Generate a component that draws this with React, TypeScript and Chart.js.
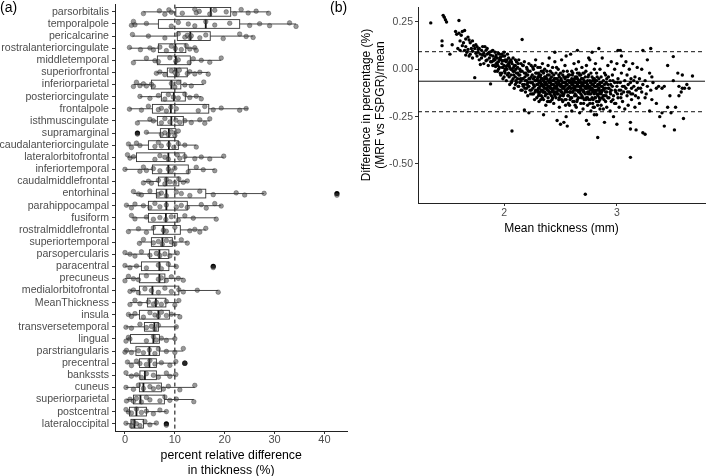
import React, { useEffect, useRef } from 'react';
import { Chart, registerables } from 'chart.js';

Chart.register(...registerables);

const FONT = "'Liberation Sans', Arial, Helvetica, sans-serif";
const TICK_COLOR = '#4d4d4d';
const AXIS_COLOR = '#222';

// ---------- Panel (a): box plots ----------
const REGIONS = [
  'parsorbitalis', 'temporalpole', 'pericalcarine', 'rostralanteriorcingulate', 'middletemporal',
  'superiorfrontal', 'inferiorparietal', 'posteriorcingulate', 'frontalpole', 'isthmuscingulate',
  'supramarginal', 'caudalanteriorcingulate', 'lateralorbitofrontal', 'inferiortemporal', 'caudalmiddlefrontal',
  'entorhinal', 'parahippocampal', 'fusiform', 'rostralmiddlefrontal', 'superiortemporal',
  'parsopercularis', 'paracentral', 'precuneus', 'medialorbitofrontal', 'MeanThickness',
  'insula', 'transversetemporal', 'lingual', 'parstriangularis', 'precentral',
  'bankssts', 'cuneus', 'superiorparietal', 'postcentral', 'lateraloccipital',
];

const WHISK_LO = [3.7, 1.3, 1.5, 0.9, 1.7, 6.3, 1.7, 3.0, 0.9, 2.5, 4.3, 0.7, 0.5, 0.0, 3.7, 1.7, 0.3, 1.3, 0.7, 2.9, 0.0, 0.0, 0.0, 1.0, 1.0, 0.7, 0.2, 0.2, 0.0, 0.5, 0.2, 0.2, 0.3, 0.2, 0.2];
const Q1 = [10.2, 6.7, 10.5, 6.7, 6.5, 8.5, 5.3, 7.3, 5.5, 6.5, 7.1, 4.7, 2.3, 5.5, 6.7, 6.3, 4.7, 4.7, 5.7, 5.3, 4.9, 3.3, 2.9, 2.9, 4.5, 2.9, 3.9, 1.1, 2.2, 2.9, 3.0, 2.9, 1.7, 0.9, 1.2];
const MEDIAN = [17.2, 16.2, 13.1, 10.1, 10.2, 10.3, 9.3, 9.8, 9.2, 9.3, 8.8, 8.8, 8.7, 8.7, 8.3, 8.3, 8.3, 8.2, 7.7, 7.5, 6.9, 6.9, 6.9, 5.5, 6.2, 6.7, 5.9, 5.7, 4.9, 4.9, 4.0, 3.7, 3.1, 2.3, 1.9];
const Q3 = [21.2, 23.0, 17.1, 12.2, 13.1, 12.5, 11.2, 12.1, 16.8, 11.7, 10.2, 10.7, 12.0, 12.7, 10.8, 16.2, 12.5, 10.5, 11.1, 9.5, 8.8, 8.8, 8.0, 10.8, 8.2, 8.9, 6.7, 6.9, 6.9, 6.3, 6.3, 7.3, 7.9, 4.3, 3.7];
const WHISK_HI = [28.8, 34.3, 25.7, 14.3, 19.3, 16.7, 15.8, 15.3, 24.7, 17.0, 10.7, 14.3, 19.8, 18.0, 12.5, 27.9, 19.3, 18.3, 16.2, 12.5, 10.5, 10.3, 11.7, 18.7, 10.8, 11.0, 10.5, 10.0, 11.7, 10.2, 10.2, 14.0, 13.8, 8.3, 6.3];

const REGION_POINTS: number[][] = [
  [3.7, 6.9, 8.0, 8.8, 9.3, 11.5, 14.0, 14.3, 14.9, 17.0, 18.0, 20.3, 22.0, 23.3, 24.7, 26.3, 28.8],
  [1.3, 1.7, 2.0, 4.3, 9.3, 10.7, 12.7, 14.0, 16.2, 18.0, 21.0, 25.0, 27.0, 29.0, 33.0, 34.3],
  [1.5, 4.7, 8.0, 10.7, 12.0, 12.5, 13.0, 13.3, 15.0, 16.2, 19.7, 23.0, 24.3, 25.7],
  [0.9, 3.1, 5.0, 5.7, 7.0, 8.3, 9.3, 10.1, 11.3, 12.3, 13.0, 14.0, 14.3],
  [1.7, 4.3, 6.0, 6.7, 9.0, 10.2, 10.7, 12.9, 13.7, 15.3, 17.0, 19.3],
  [6.3, 7.0, 8.0, 9.3, 10.0, 10.5, 10.9, 12.5, 13.0, 14.0, 15.0, 16.7],
  [1.7, 2.3, 3.0, 3.7, 4.3, 5.3, 5.7, 9.3, 10.0, 10.7, 12.0, 13.3, 15.8],
  [3.0, 5.0, 6.7, 8.0, 8.7, 9.7, 10.7, 12.0, 13.0, 14.3, 15.3],
  [0.9, 3.3, 4.7, 6.7, 7.3, 8.3, 9.2, 10.3, 14.7, 16.0, 17.7, 19.3, 23.0, 24.3],
  [2.5, 5.0, 5.7, 7.3, 8.0, 9.0, 10.2, 11.0, 12.0, 13.3, 15.0, 16.0, 17.0],
  [2.5, 4.3, 7.3, 8.0, 8.7, 9.3, 10.0, 10.7],
  [0.7, 1.3, 2.3, 3.0, 6.0, 6.7, 7.3, 8.8, 9.8, 10.7, 12.0, 14.3],
  [0.5, 1.0, 1.7, 6.0, 7.0, 8.0, 8.7, 10.5, 11.0, 12.0, 14.0, 15.3, 17.0, 19.8],
  [0.0, 3.0, 3.7, 4.3, 5.7, 7.0, 8.7, 9.3, 10.0, 12.7, 14.3, 15.7, 18.0],
  [3.7, 4.7, 5.3, 6.7, 8.0, 8.3, 9.0, 10.0, 10.8, 11.7, 12.5],
  [1.7, 2.7, 3.3, 5.0, 6.7, 7.3, 8.3, 10.3, 11.3, 13.0, 15.0, 17.7, 22.3, 24.0, 27.9, 42.5],
  [0.3, 1.3, 2.0, 3.7, 5.0, 6.0, 7.0, 8.3, 10.3, 11.3, 12.5, 15.3, 16.3, 18.0, 19.3],
  [1.3, 2.0, 4.3, 5.7, 7.0, 8.2, 9.3, 10.7, 12.0, 13.7, 18.3],
  [0.7, 2.7, 4.3, 5.7, 7.7, 8.3, 10.0, 13.0, 14.0, 15.0, 16.2],
  [2.9, 3.7, 5.7, 6.7, 7.5, 8.3, 9.3, 10.0, 11.3, 12.5],
  [0.0, 1.0, 2.0, 3.3, 5.0, 6.3, 7.0, 8.0, 9.0, 10.5],
  [0.0, 1.0, 2.3, 4.3, 6.7, 7.3, 8.7, 10.3, 17.7],
  [0.0, 0.7, 1.7, 2.7, 4.3, 6.7, 7.3, 8.3, 9.3, 10.7, 11.7],
  [1.0, 1.7, 2.7, 4.0, 5.3, 6.7, 8.0, 9.3, 10.8, 11.7, 14.5, 18.7],
  [1.0, 2.0, 3.0, 4.7, 5.7, 6.3, 7.3, 8.3, 10.0, 10.8],
  [0.7, 1.3, 2.0, 3.7, 5.0, 6.0, 6.7, 7.3, 8.3, 9.3, 11.0],
  [0.2, 1.3, 3.0, 4.3, 5.3, 6.0, 6.7, 10.3],
  [0.2, 0.7, 1.0, 4.3, 5.7, 6.3, 7.3, 8.3, 10.0],
  [0.0, 0.3, 1.3, 2.7, 3.7, 4.9, 6.0, 6.7, 8.3, 10.0, 11.7],
  [0.5, 1.3, 2.3, 3.0, 4.3, 5.0, 6.0, 7.3, 9.0, 10.2, 12.0],
  [0.2, 1.3, 2.3, 3.3, 4.3, 5.7, 6.7, 8.3, 9.0, 10.2],
  [0.2, 1.7, 2.7, 3.7, 5.0, 5.7, 6.7, 7.7, 8.7, 11.0, 14.0],
  [0.3, 1.0, 1.7, 2.3, 3.3, 4.3, 5.0, 7.0, 8.0, 9.0, 10.3, 13.8],
  [0.2, 0.7, 1.3, 2.3, 3.3, 4.3, 5.7, 7.0, 8.3],
  [0.2, 1.3, 1.7, 2.3, 3.0, 4.0, 5.0, 6.3, 8.3],
];

// [region index, value]
const OUTLIERS: [number, number][] = [[10, 2.5], [15, 42.5], [21, 17.7], [29, 12.0], [34, 8.3]];
const REFERENCE_PCT = 10;
const X_TICKS_A = [0, 10, 20, 30, 40];

// vertical jitter pattern (style only, in category units)
const JITTER = [0.14, -0.09, 0.2, -0.17, 0.03, 0.11, -0.21, 0.07, -0.04, 0.18, -0.13, 0.0, 0.16, -0.19, 0.09, -0.06, 0.12, -0.02];

// ---------- Panel (b): Bland-Altman ----------
// each row: [mean thickness, difference values...]
const BA_TAIL: number[][] = [
  [1.35, 0.245], [1.45, 0.15, 0.125], [1.46, 0.285], [1.47, 0.275], [1.48, 0.262], [1.49, 0.25],
  [1.52, 0.08], [1.54, 0.13], [1.57, 0.2], [1.58, 0.185], [1.59, 0.11], [1.6, 0.258, 0.19],
  [1.61, 0.1, 0.15], [1.62, 0.18], [1.63, 0.2, 0.125], [1.64, 0.14], [1.65, 0.205, 0.1],
  [1.66, 0.16, 0.12, 0.075], [1.67, 0.09], [1.68, 0.17, 0.105], [1.69, 0.155, 0.07], [1.7, 0.14, 0.08],
  [1.71, 0.11], [1.72, 0.15, 0.095, 0.06], [1.73, 0.125], [1.74, 0.11, -0.044], [1.75, 0.13, 0.085],
  [1.76, 0.12, 0.07], [1.77, 0.09, 0.105], [1.78, 0.11, 0.05], [1.79, 0.08, 0.025], [1.8, 0.1, 0.06],
  [1.81, 0.12, 0.075], [1.82, 0.085, 0.03], [1.83, 0.07, 0.12], [1.84, 0.1, 0.045], [1.85, 0.05, 0.11, 0.08],
  [1.86, 0.085, 0.02], [1.87, 0.06, 0.09], [1.88, 0.075, -0.077, 0.04], [1.89, 0.04, 0.095],
];
const BA_RISE: number[][] = [
  [1.9, 0.07, 0.02, 0.1], [1.91, 0.02, 0.055], [1.92, 0.05, 0.09, -0.01], [1.93, 0.03, 0.075],
  [1.94, 0.06, -0.01, 0.035], [1.95, 0.04, 0.085, 0.0], [1.96, 0.08, 0.01, 0.05], [1.97, 0.05, -0.03, 0.065],
  [1.98, -0.02, 0.03, 0.08], [1.99, 0.07, 0.01, -0.05], [2.0, 0.02, -0.04, 0.045, 0.09], [2.01, 0.05, 0.0, -0.02],
  [2.02, 0.04, -0.06, 0.015], [2.03, 0.02, 0.08, -0.03], [2.04, -0.02, 0.03, 0.06], [2.05, 0.01, -0.08, 0.04],
  [2.06, 0.05, -0.03, 0.0], [2.07, 0.0, -0.326, 0.03, -0.06], [2.08, -0.05, 0.06, -0.01], [2.09, -0.01, -0.1, 0.02],
  [2.1, 0.02, -0.04, -0.08, 0.05], [2.11, 0.04, -0.07, -0.02], [2.12, -0.02, 0.01, -0.05], [2.13, -0.09, 0.05, -0.03],
  [2.14, -0.03, 0.0, -0.07], [2.15, -0.06, 0.03, -0.11], [2.16, 0.157, -0.11, -0.01, -0.05], [2.17, 0.02, -0.05, -0.09],
  [2.18, -0.08, 0.04, -0.02, -0.215], [2.19, -0.02, -0.12, -0.06], [2.2, 0.01, -0.06, -0.1, -0.03],
  [2.21, -0.03, -0.14, -0.07], [2.22, 0.03, -0.09, -0.05, -0.23], [2.23, -0.01, -0.05, -0.11],
  [2.24, -0.11, 0.02, -0.07, -0.04], [2.25, -0.07, -0.03, -0.13], [2.26, -0.13, 0.0, -0.08, -0.05],
  [2.27, -0.04, -0.09, -0.16], [2.28, -0.06, 0.05, -0.11, -0.02], [2.29, -0.02, -0.15, -0.08],
  [1.905, 0.045], [1.925, 0.015, 0.065], [1.945, 0.02], [1.965, 0.06, -0.02], [1.985, 0.045, 0.01],
  [2.005, 0.07, -0.01], [2.025, 0.0, 0.05], [2.045, -0.04, 0.02], [2.065, 0.04, -0.07], [2.085, 0.01, -0.03],
  [2.105, -0.06, 0.0], [2.125, 0.03, -0.09], [2.145, -0.05, -0.01], [2.165, -0.08, 0.02], [2.185, -0.04, -0.1],
  [2.205, -0.08, 0.0], [2.215, -0.01, -0.09], [2.235, -0.07, -0.13], [2.255, 0.01, -0.1],
  [2.275, -0.06, -0.12, 0.02], [2.295, -0.05, -0.11],
];
const BA_CORE: number[][] = [
  [2.3, -0.08, -0.04, -0.12, 0.01, -0.06], [2.31, -0.1, -0.03, -0.17, -0.07, -0.13],
  [2.32, -0.06, 0.01, -0.12, -0.09, -0.04], [2.33, -0.08, -0.01, -0.14, -0.05, -0.11],
  [2.34, -0.05, -0.11, 0.03, -0.08, -0.15], [2.35, -0.09, -0.02, -0.16, -0.06, -0.12, -0.24],
  [2.36, -0.07, -0.12, 0.0, -0.1, -0.04], [2.37, -0.04, -0.1, -0.19, -0.07, -0.13],
  [2.38, -0.08, -0.01, -0.13, -0.05, -0.1], [2.39, -0.06, -0.15, 0.02, -0.09, -0.11],
  [2.4, -0.09, -0.03, -0.12, 0.06, -0.07, -0.17], [2.41, -0.07, -0.17, -0.01, -0.1, -0.05],
  [2.42, -0.1, -0.04, -0.14, -0.08, -0.12], [2.43, -0.06, 0.01, -0.11, -0.08, -0.15],
  [2.44, -0.08, -0.18, -0.03, -0.12, -0.06], [2.45, -0.05, -0.12, 0.04, -0.09, -0.14, 0.09],
  [2.46, -0.07, -0.15, -0.02, -0.1, -0.05], [2.47, -0.1, -0.27, -0.05, -0.13, -0.08],
  [2.48, -0.08, -0.13, 0.0, -0.06, -0.11], [2.49, -0.04, -0.11, -0.2, -0.08, -0.15],
  [2.5, -0.09, -0.02, -0.29, -0.14, -0.06, -0.11], [2.51, -0.06, -0.12, 0.05, -0.09, -0.16],
  [2.52, -0.1, -0.03, -0.17, -0.07, -0.13], [2.53, -0.07, -0.13, -0.28, -0.04, -0.1],
  [2.54, -0.05, -0.09, 0.02, -0.12, -0.16], [2.55, -0.11, -0.04, -0.16, -0.08, -0.25, 0.07],
  [2.56, -0.08, -0.01, -0.3, -0.12, -0.06], [2.57, -0.06, -0.14, -0.1, -0.03, -0.18],
  [2.58, -0.09, -0.03, -0.19, -0.12, -0.07], [2.59, -0.07, -0.12, 0.08, -0.15, -0.1],
  [2.6, -0.1, -0.05, -0.15, -0.22, -0.08, -0.01], [2.61, -0.08, -0.02, -0.12, -0.06, -0.17],
  [2.62, -0.06, -0.17, 0.03, -0.11, -0.09], [2.63, -0.09, -0.13, -0.04, -0.07, -0.19],
  [2.64, -0.07, -0.2, 0.0, -0.11, -0.14], [2.65, -0.11, -0.05, -0.08, -0.16, -0.02, 0.1],
  [2.66, -0.09, -0.15, 0.04, -0.06, -0.12], [2.67, -0.06, -0.12, -0.23, -0.09, -0.03],
  [2.68, -0.1, -0.03, -0.18, -0.13, -0.07], [2.69, -0.08, -0.14, 0.01, -0.05, -0.11],
  [2.7, -0.05, -0.11, -0.21, -0.08, -0.15, -0.02], [2.71, -0.09, -0.02, -0.16, -0.12, -0.06],
  [2.72, -0.07, -0.66, -0.13, -0.1, -0.04], [2.73, -0.1, -0.27, 0.02, -0.15, -0.07],
  [2.74, -0.06, -0.15, -0.08, -0.12, -0.19], [2.75, -0.12, -0.29, -0.03, -0.09, -0.16, 0.06],
  [2.76, -0.09, -0.18, 0.05, -0.13, -0.06], [2.77, -0.07, -0.13, -0.22, -0.1, -0.02],
  [2.78, -0.1, -0.04, 0.09, -0.15, -0.08], [2.79, -0.08, -0.16, -0.11, -0.05, -0.2],
  [2.8, -0.05, -0.2, -0.13, -0.09, -0.24, 0.0], [2.81, -0.09, 0.03, -0.15, -0.12, -0.06],
  [2.82, -0.11, -0.06, -0.24, -0.17, -0.02], [2.83, -0.08, -0.36, -0.14, -0.11, -0.19],
  [2.84, 0.11, -0.1, -0.17, -0.05, -0.13], [2.85, -0.07, -0.12, 0.0, -0.16, -0.21],
  [2.86, -0.13, -0.19, -0.04, -0.09], [2.87, -0.09, -0.15, 0.06, -0.11],
  [2.88, -0.11, -0.06, -0.21, -0.14], [2.89, -0.28, -0.08, -0.14, -0.02], [2.9, -0.1, -0.17, -0.03, -0.12],
];
const BA_CORE_EXTRA: number[][] = [
  [2.305, -0.02, -0.1, -0.14], [2.325, -0.07, -0.16, -0.03], [2.345, -0.09, -0.01, -0.12],
  [2.365, -0.05, -0.14, -0.08], [2.385, -0.11, -0.03, -0.17], [2.405, -0.06, -0.13, -0.09],
  [2.425, -0.02, -0.08, -0.16], [2.445, -0.1, -0.05, -0.13], [2.465, -0.09, -0.12, 0.01],
  [2.485, -0.07, -0.16, -0.03], [2.505, -0.12, -0.05, -0.08], [2.525, -0.09, -0.14, -0.01],
  [2.545, -0.07, -0.11, -0.19], [2.565, -0.04, -0.1, -0.14], [2.585, -0.12, -0.06, -0.16],
  [2.605, -0.07, -0.12, -0.03], [2.625, -0.1, -0.14, -0.05], [2.645, -0.09, -0.04, -0.17],
  [2.665, -0.11, -0.07, -0.02], [2.685, -0.05, -0.15, -0.09], [2.705, -0.12, -0.07, -0.18],
  [2.725, -0.09, -0.01, -0.16], [2.745, -0.1, -0.04, -0.13], [2.765, -0.11, -0.07, -0.16],
  [2.785, -0.06, -0.12, -0.18], [2.805, -0.07, -0.15, -0.11], [2.825, -0.09, -0.13, -0.04],
  [2.845, -0.08, -0.15, -0.11], [2.865, -0.07, -0.12], [2.885, -0.1, -0.16], [2.905, -0.07, -0.14],
  [2.925, -0.1, -0.04], [2.945, -0.13, -0.08], [2.965, -0.06, -0.16], [2.985, -0.11],
  [3.005, -0.13, -0.07], [3.035, -0.15, -0.11], [3.065, -0.09], [3.095, -0.12], [3.125, -0.05, -0.13],
  [3.165, -0.14], [3.21, -0.1], [3.26, -0.13], [3.31, -0.04, -0.16],
];
const BA_RIGHT: number[][] = [
  [2.91, -0.12, -0.05, -0.2], [2.92, -0.08, 0.02, -0.15], [2.93, -0.15, -0.1], [2.94, -0.06, -0.22, -0.12],
  [2.95, -0.11, 0.04, -0.17], [2.96, -0.09, -0.03], [2.97, -0.14, -0.25], [2.98, -0.07, 0.0, -0.18],
  [2.99, -0.12, -0.18], [3.0, -0.09, -0.29, 0.03], [3.01, 0.1, -0.05, -0.15], [3.02, -0.11, -0.2],
  [3.03, 0.1, -0.07], [3.04, 0.07, -0.13, -0.02], [3.05, -0.09, -0.17], [3.06, 0.02, -0.12],
  [3.07, -0.06, -0.21], [3.08, -0.1, 0.04], [3.09, -0.14, -0.03], [3.1, -0.08, -0.19], [3.11, -0.12, 0.0],
  [3.12, -0.315, -0.465, -0.07, -0.28], [3.13, -0.1, -0.16], [3.14, 0.03, -0.13], [3.15, -0.06, -0.09],
  [3.16, -0.2, -0.04], [3.17, -0.32, -0.11], [3.18, -0.07, 0.01], [3.19, -0.15, -0.1], [3.2, -0.05, -0.18],
  [3.22, -0.12, 0.0], [3.23, 0.1, -0.335, -0.08], [3.25, -0.343, -0.06, -0.15], [3.27, 0.05, -0.09],
  [3.29, -0.22, -0.02], [3.3, 0.11, -0.11], [3.32, -0.07], [3.35, -0.1, -0.18], [3.37, -0.09], [3.38, -0.25],
  [3.4, -0.23, -0.1], [3.42, -0.3, -0.09], [3.45, -0.2, 0.02], [3.47, -0.14], [3.48, -0.23],
  [3.5, 0.067, -0.06], [3.51, -0.32], [3.52, -0.2], [3.54, -0.02], [3.55, -0.14, -0.09], [3.57, -0.12],
  [3.58, -0.03, -0.1], [3.59, -0.26], [3.6, -0.1], [3.62, -0.08], [3.64, -0.1], [3.67, -0.035],
];
const BA_MEAN_DIFF = -0.063;
const BA_UPPER_LOA = 0.093;
const BA_LOWER_LOA = -0.224;
const X_TICKS_B = [2, 3];
const Y_TICKS_B = [-0.5, -0.25, 0, 0.25];

const BOX_HALF = 0.36;

const boxPlugin = {
  id: 'boxplots',
  beforeDatasetsDraw(chart: any) {
    const { ctx, chartArea } = chart;
    const x = chart.scales.x;
    const y = chart.scales.y;
    ctx.save();
    const rx = x.getPixelForValue(REFERENCE_PCT);
    ctx.strokeStyle = '#000';
    ctx.lineWidth = 1;
    ctx.setLineDash([4, 3]);
    ctx.beginPath();
    ctx.moveTo(rx, chartArea.top);
    ctx.lineTo(rx, chartArea.bottom);
    ctx.stroke();
    ctx.setLineDash([]);
    REGIONS.forEach((_, i) => {
      const yc = y.getPixelForValue(i);
      const ya = y.getPixelForValue(i - BOX_HALF);
      const yb = y.getPixelForValue(i + BOX_HALF);
      const top = Math.min(ya, yb);
      const h = Math.abs(yb - ya);
      const xl = x.getPixelForValue(Q1[i]);
      const xr = x.getPixelForValue(Q3[i]);
      ctx.strokeStyle = '#333';
      ctx.lineWidth = 0.9;
      ctx.beginPath();
      ctx.moveTo(x.getPixelForValue(WHISK_LO[i]), yc);
      ctx.lineTo(xl, yc);
      ctx.moveTo(xr, yc);
      ctx.lineTo(x.getPixelForValue(WHISK_HI[i]), yc);
      ctx.stroke();
      ctx.strokeRect(xl, top, xr - xl, h);
      ctx.strokeStyle = '#111';
      ctx.lineWidth = 1.8;
      const xm = x.getPixelForValue(MEDIAN[i]);
      ctx.beginPath();
      ctx.moveTo(xm, top);
      ctx.lineTo(xm, top + h);
      ctx.stroke();
    });
    ctx.restore();
  },
};

const loaPlugin = {
  id: 'loa',
  beforeDatasetsDraw(chart: any) {
    const { ctx, chartArea } = chart;
    const y = chart.scales.y;
    ctx.save();
    ctx.strokeStyle = '#111';
    ctx.lineWidth = 1;
    const draw = (v: number, dash: number[]) => {
      const py = y.getPixelForValue(v);
      ctx.setLineDash(dash);
      ctx.beginPath();
      ctx.moveTo(chartArea.left, py);
      ctx.lineTo(chartArea.right, py);
      ctx.stroke();
    };
    draw(BA_MEAN_DIFF, []);
    draw(BA_UPPER_LOA, [4, 3]);
    draw(BA_LOWER_LOA, [4, 3]);
    ctx.restore();
  },
};

function leftConfig(): any {
  const pts: { x: number; y: number }[] = [];
  REGION_POINTS.forEach((vals, i) => {
    vals.forEach((v, j) => {
      pts.push({ x: v, y: i + JITTER[(i * 5 + j) % JITTER.length] });
    });
  });
  const outl = OUTLIERS.map(([i, v]) => ({ x: v, y: i }));
  return {
    type: 'scatter',
    data: {
      datasets: [
        {
          data: pts,
          pointRadius: 2.3,
          pointBackgroundColor: 'rgba(70,70,70,0.55)',
          pointBorderColor: 'rgba(30,30,30,0.55)',
          pointBorderWidth: 0.6,
        },
        {
          data: outl,
          pointRadius: 2.6,
          pointBackgroundColor: '#000',
          pointBorderColor: '#000',
          pointBorderWidth: 0,
        },
      ],
    },
    options: {
      responsive: false,
      animation: false,
      layout: { padding: { top: 1, right: 4, left: 0, bottom: 0 } },
      plugins: { legend: { display: false }, tooltip: { enabled: false } },
      scales: {
        x: {
          type: 'linear',
          min: -2,
          max: 44.6,
          afterBuildTicks: (s: any) => { s.ticks = X_TICKS_A.map((v) => ({ value: v })); },
          afterFit: (s: any) => { s.height = 45; s.paddingLeft = 0; s.paddingRight = 0; },
          grid: { drawOnChartArea: false, drawTicks: true, tickLength: 3, color: '#333', lineWidth: 1 },
          border: { display: true, color: AXIS_COLOR, width: 1 },
          ticks: { font: { family: FONT, size: 11 }, color: TICK_COLOR, padding: -1, maxRotation: 0 },
          title: {
            display: true,
            text: ['percent relative difference', 'in thickness (%)'],
            font: { family: FONT, size: 12.3, lineHeight: 1.2 },
            color: '#000',
            padding: { top: 0, bottom: -2 },
          },
        },
        y: {
          type: 'linear',
          reverse: true,
          min: -0.6,
          max: 34.6,
          afterBuildTicks: (s: any) => { s.ticks = REGIONS.map((_, i) => ({ value: i })); },
          afterFit: (s: any) => { s.width = 115; s.paddingTop = 0; s.paddingBottom = 0; },
          grid: { drawOnChartArea: false, drawTicks: true, tickLength: 3, color: '#333', lineWidth: 1 },
          border: { display: true, color: AXIS_COLOR, width: 1 },
          ticks: {
            autoSkip: false,
            font: { family: FONT, size: 10.6 },
            color: TICK_COLOR,
            padding: 3,
            callback: (v: number) => REGIONS[Math.round(v)] ?? '',
          },
        },
      },
    },
    plugins: [boxPlugin],
  };
}

function rightConfig(): any {
  const pts: { x: number; y: number }[] = [];
  [BA_TAIL, BA_RISE, BA_CORE, BA_CORE_EXTRA, BA_RIGHT].forEach((rows) => {
    rows.forEach((row) => {
      for (let k = 1; k < row.length; k++) pts.push({ x: row[0], y: row[k] });
    });
  });
  return {
    type: 'scatter',
    data: {
      datasets: [
        {
          data: pts,
          pointRadius: 1.7,
          pointBackgroundColor: '#000',
          pointBorderWidth: 0,
        },
      ],
    },
    options: {
      responsive: false,
      animation: false,
      layout: { padding: { top: 7, right: 1, left: 0, bottom: 0 } },
      plugins: { legend: { display: false }, tooltip: { enabled: false } },
      scales: {
        x: {
          type: 'linear',
          min: 1.237,
          max: 3.781,
          afterBuildTicks: (s: any) => { s.ticks = X_TICKS_B.map((v) => ({ value: v })); },
          afterFit: (s: any) => { s.height = 33; s.paddingLeft = 0; s.paddingRight = 0; },
          grid: { drawOnChartArea: false, drawTicks: true, tickLength: 3, color: '#333', lineWidth: 1 },
          border: { display: true, color: AXIS_COLOR, width: 1 },
          ticks: { font: { family: FONT, size: 10.5 }, color: TICK_COLOR, padding: 1, maxRotation: 0 },
          title: {
            display: true,
            text: 'Mean thickness (mm)',
            font: { family: FONT, size: 12 },
            color: '#000',
            padding: { top: 0, bottom: 0 },
          },
        },
        y: {
          type: 'linear',
          min: -0.706,
          max: 0.329,
          afterBuildTicks: (s: any) => { s.ticks = Y_TICKS_B.map((v) => ({ value: v })); },
          afterFit: (s: any) => { s.width = 63; s.paddingTop = 0; s.paddingBottom = 0; },
          grid: { drawOnChartArea: false, drawTicks: true, tickLength: 3, color: '#333', lineWidth: 1 },
          border: { display: true, color: AXIS_COLOR, width: 1 },
          ticks: {
            font: { family: FONT, size: 10.5 },
            color: TICK_COLOR,
            padding: 2,
            callback: (v: number) => v.toFixed(2),
          },
          title: {
            display: true,
            text: ['Difference in percentage (%)', '(MRF vs FSPGR)/mean'],
            font: { family: FONT, size: 12, lineHeight: 1.15 },
            color: '#000',
            padding: { top: 5, bottom: 0 },
          },
        },
      },
    },
    plugins: [loaPlugin],
  };
}

export default function App() {
  const leftRef = useRef<HTMLCanvasElement>(null);
  const rightRef = useRef<HTMLCanvasElement>(null);

  useEffect(() => {
    const left = new Chart(leftRef.current as HTMLCanvasElement, leftConfig());
    const right = new Chart(rightRef.current as HTMLCanvasElement, rightConfig());
    return () => {
      left.destroy();
      right.destroy();
    };
  }, []);

  const labelStyle: React.CSSProperties = {
    position: 'absolute',
    top: 0,
    fontSize: 14,
    lineHeight: '14px',
    fontFamily: FONT,
    color: '#000',
  };

  return (
    <div style={{ position: 'fixed', left: 0, top: 0, width: 709, height: 476, background: '#fff', overflow: 'hidden' }}>
      <canvas ref={leftRef} width={352} height={476} style={{ position: 'absolute', left: 0, top: 0 }} />
      <canvas ref={rightRef} width={354} height={236} style={{ position: 'absolute', left: 355, top: 0 }} />
      <div style={{ ...labelStyle, left: 0 }}>(a)</div>
      <div style={{ ...labelStyle, left: 330 }}>(b)</div>
    </div>
  );
}
